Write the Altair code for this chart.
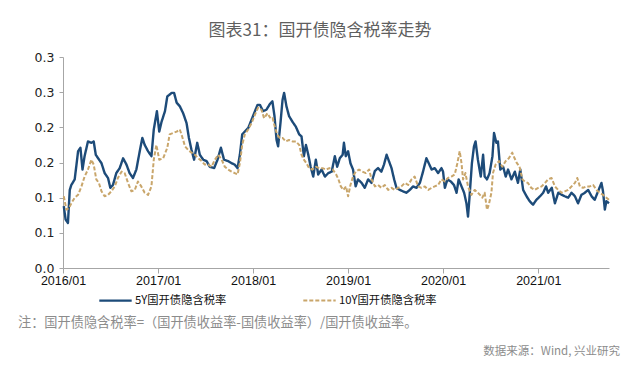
import altair as alt
import pandas as pd

# ---------------- data ----------------
s5_name = "5Y国开债隐含税率"
s10_name = "10Y国开债隐含税率"

s5_dates = [
    "2016-01-04", "2016-01-11", "2016-01-20", "2016-01-27", "2016-02-02", "2016-02-15", "2016-02-28",
    "2016-03-08", "2016-03-16", "2016-03-24", "2016-04-06", "2016-04-19", "2016-04-28", "2016-05-06",
    "2016-05-15", "2016-05-28", "2016-06-09", "2016-06-22", "2016-07-01", "2016-07-11", "2016-07-24",
    "2016-08-06", "2016-08-19", "2016-09-01", "2016-09-13", "2016-09-26", "2016-10-09", "2016-10-22",
    "2016-11-01", "2016-11-10", "2016-11-23", "2016-12-06", "2016-12-15", "2016-12-27",
    "2017-01-05", "2017-01-14", "2017-01-27", "2017-02-05", "2017-02-12", "2017-02-22", "2017-03-03",
    "2017-03-13", "2017-03-25", "2017-04-07", "2017-04-20", "2017-04-29", "2017-05-09", "2017-05-19",
    "2017-05-31", "2017-06-10", "2017-06-23", "2017-07-06", "2017-07-18", "2017-08-04", "2017-08-17",
    "2017-08-30", "2017-09-11", "2017-09-27", "2017-10-10", "2017-10-22", "2017-11-02", "2017-11-11",
    "2017-11-20", "2017-11-30", "2017-12-13", "2017-12-26",
    "2018-01-08", "2018-01-18", "2018-01-27", "2018-02-08", "2018-02-21", "2018-03-06", "2018-03-16",
    "2018-03-24", "2018-04-01", "2018-04-07", "2018-04-16", "2018-04-24", "2018-04-30", "2018-05-09",
    "2018-05-19", "2018-06-01", "2018-06-14", "2018-06-27", "2018-07-06", "2018-07-15", "2018-07-23",
    "2018-08-01", "2018-08-10", "2018-08-20", "2018-08-30", "2018-09-08", "2018-09-21", "2018-10-04",
    "2018-10-17", "2018-10-30", "2018-11-11", "2018-11-20", "2018-11-30", "2018-12-11", "2018-12-16",
    "2018-12-23",
    "2019-01-01", "2019-01-10", "2019-01-20", "2019-01-30", "2019-02-08", "2019-02-22", "2019-03-06",
    "2019-03-19", "2019-04-01", "2019-04-14", "2019-04-26", "2019-05-09", "2019-05-19", "2019-05-29",
    "2019-06-07", "2019-06-17", "2019-06-27", "2019-07-06", "2019-07-19", "2019-07-31", "2019-08-13",
    "2019-08-26", "2019-09-08", "2019-09-21", "2019-10-04", "2019-10-16", "2019-10-29", "2019-11-07",
    "2019-11-18", "2019-11-30", "2019-12-13", "2019-12-26",
    "2020-01-01", "2020-01-08", "2020-01-18", "2020-01-31", "2020-02-12", "2020-02-22", "2020-03-01",
    "2020-03-12", "2020-03-22", "2020-03-31", "2020-04-06", "2020-04-12", "2020-04-21", "2020-04-29",
    "2020-05-05", "2020-05-14", "2020-05-25", "2020-06-03", "2020-06-09", "2020-06-18", "2020-06-28",
    "2020-07-09", "2020-07-15", "2020-07-24", "2020-07-30", "2020-08-08", "2020-08-19", "2020-08-29",
    "2020-09-07", "2020-09-20", "2020-10-03", "2020-10-15", "2020-10-24", "2020-11-04", "2020-11-17",
    "2020-11-29", "2020-12-12", "2020-12-25",
    "2021-01-08", "2021-01-20", "2021-01-31", "2021-02-08", "2021-02-22", "2021-03-06", "2021-03-19",
    "2021-04-01", "2021-04-13", "2021-04-26", "2021-05-09", "2021-05-22", "2021-06-03", "2021-06-16",
    "2021-06-29", "2021-07-12", "2021-07-25", "2021-08-06", "2021-08-19", "2021-09-01", "2021-09-07",
    "2021-09-14", "2021-09-20", "2021-09-30",
]
s5_values = [
    0.088, 0.069, 0.064, 0.111, 0.118, 0.126, 0.166,
    0.171, 0.140, 0.159, 0.180, 0.178, 0.180, 0.161,
    0.156, 0.149, 0.135, 0.128, 0.114, 0.118, 0.135,
    0.142, 0.156, 0.147, 0.135, 0.128, 0.140, 0.166,
    0.185, 0.175, 0.166, 0.159, 0.197, 0.223,
    0.194, 0.208, 0.223, 0.244, 0.246, 0.249, 0.249,
    0.235, 0.230, 0.220, 0.206, 0.185, 0.168, 0.154,
    0.178, 0.161, 0.154, 0.152, 0.144, 0.142, 0.154,
    0.171, 0.154, 0.152, 0.149, 0.147, 0.142, 0.161,
    0.190, 0.194, 0.199, 0.211,
    0.223, 0.232, 0.232, 0.223, 0.225, 0.233, 0.237,
    0.216, 0.182, 0.173, 0.206, 0.239, 0.249, 0.230,
    0.216, 0.208, 0.201, 0.190, 0.187, 0.159, 0.175,
    0.161, 0.144, 0.130, 0.154, 0.133, 0.140, 0.130,
    0.135, 0.137, 0.159, 0.144, 0.156, 0.161, 0.178,
    0.159,
    0.166, 0.149, 0.140, 0.116, 0.126, 0.121, 0.114,
    0.126, 0.121, 0.138, 0.142, 0.137, 0.147, 0.161,
    0.152, 0.142, 0.126, 0.114, 0.111, 0.109, 0.107,
    0.111, 0.116, 0.114, 0.121, 0.137, 0.156, 0.149,
    0.140, 0.142, 0.135, 0.142,
    0.137, 0.114, 0.126, 0.123, 0.118, 0.107, 0.126,
    0.116, 0.107, 0.092, 0.073, 0.102, 0.149, 0.173,
    0.180, 0.154, 0.130, 0.161, 0.130, 0.126, 0.135,
    0.159, 0.192, 0.178, 0.180, 0.140, 0.144, 0.130,
    0.140, 0.126, 0.137, 0.121, 0.140, 0.111, 0.102,
    0.095, 0.090, 0.097,
    0.102, 0.107, 0.116, 0.107, 0.114, 0.092, 0.107,
    0.104, 0.102, 0.100, 0.107, 0.102, 0.092, 0.104,
    0.107, 0.111, 0.102, 0.097, 0.109, 0.121, 0.109,
    0.083, 0.095, 0.092,
]

s10_dates = [
    "2016-01-04", "2016-01-14", "2016-01-24", "2016-02-02", "2016-02-15", "2016-02-28", "2016-03-12",
    "2016-03-24", "2016-04-06", "2016-04-19", "2016-04-28", "2016-05-08", "2016-05-18", "2016-05-28",
    "2016-06-09", "2016-06-22", "2016-07-05", "2016-07-18", "2016-07-30", "2016-08-13", "2016-08-25",
    "2016-09-07", "2016-09-20", "2016-10-03", "2016-10-15", "2016-10-28", "2016-11-10", "2016-11-23",
    "2016-12-06", "2016-12-15", "2016-12-25",
    "2017-01-05", "2017-01-20", "2017-02-05", "2017-02-14", "2017-02-28", "2017-03-13", "2017-03-25",
    "2017-04-03", "2017-04-14", "2017-04-26", "2017-05-09", "2017-05-22", "2017-06-04", "2017-06-17",
    "2017-06-29", "2017-07-12", "2017-07-25", "2017-08-07", "2017-08-20", "2017-09-02", "2017-09-14",
    "2017-09-27", "2017-10-10", "2017-10-22", "2017-11-02", "2017-11-11", "2017-11-20", "2017-11-30",
    "2017-12-13", "2017-12-26",
    "2018-01-08", "2018-01-20", "2018-02-02", "2018-02-12", "2018-02-25", "2018-03-10", "2018-03-17",
    "2018-03-25", "2018-04-03", "2018-04-13", "2018-04-24", "2018-05-06", "2018-05-19", "2018-06-01",
    "2018-06-14", "2018-06-27", "2018-07-06", "2018-07-15", "2018-07-25", "2018-08-04", "2018-08-17",
    "2018-08-30", "2018-09-12", "2018-09-25", "2018-10-08", "2018-10-21", "2018-11-03", "2018-11-16",
    "2018-11-25", "2018-12-04", "2018-12-14", "2018-12-24",
    "2019-01-01", "2019-01-10", "2019-01-20", "2019-01-30", "2019-02-12", "2019-02-25", "2019-03-10",
    "2019-03-23", "2019-04-01", "2019-04-14", "2019-04-26", "2019-05-09", "2019-05-22", "2019-06-04",
    "2019-06-17", "2019-06-29", "2019-07-12", "2019-07-25", "2019-08-07", "2019-08-20", "2019-09-02",
    "2019-09-14", "2019-09-27", "2019-10-10", "2019-10-23", "2019-11-05", "2019-11-18", "2019-11-30",
    "2019-12-13", "2019-12-26",
    "2020-01-08", "2020-01-20", "2020-02-02", "2020-02-15", "2020-02-25", "2020-03-05", "2020-03-12",
    "2020-03-18", "2020-03-27", "2020-04-06", "2020-04-19", "2020-05-02", "2020-05-14", "2020-05-27",
    "2020-05-31", "2020-06-09", "2020-06-18", "2020-06-25", "2020-07-05", "2020-07-11", "2020-07-21",
    "2020-08-03", "2020-08-16", "2020-08-29", "2020-09-10", "2020-09-23", "2020-10-02", "2020-10-11",
    "2020-10-21", "2020-11-01", "2020-11-10", "2020-11-22", "2020-12-05", "2020-12-18",
    "2021-01-01", "2021-01-14", "2021-01-27", "2021-02-08", "2021-02-21", "2021-03-06", "2021-03-19",
    "2021-04-01", "2021-04-13", "2021-04-26", "2021-05-09", "2021-05-22", "2021-05-31", "2021-06-10",
    "2021-06-22", "2021-07-05", "2021-07-18", "2021-07-31", "2021-08-13", "2021-08-25", "2021-09-07",
    "2021-09-20", "2021-09-30",
]
s10_values = [
    0.102, 0.083, 0.085, 0.092, 0.100, 0.104, 0.116,
    0.130, 0.140, 0.154, 0.147, 0.126, 0.121, 0.109,
    0.102, 0.104, 0.109, 0.116, 0.128, 0.137, 0.135,
    0.121, 0.109, 0.111, 0.123, 0.116, 0.107, 0.104,
    0.116, 0.154, 0.175,
    0.154, 0.156, 0.171, 0.190, 0.192, 0.194, 0.197,
    0.187, 0.173, 0.168, 0.164, 0.161, 0.156, 0.152,
    0.147, 0.147, 0.144, 0.154, 0.161, 0.154, 0.144,
    0.140, 0.137, 0.135, 0.133, 0.149, 0.175, 0.190,
    0.197, 0.206,
    0.218, 0.228, 0.225, 0.213, 0.220, 0.212, 0.213,
    0.201, 0.190, 0.185, 0.185, 0.180, 0.182, 0.180,
    0.180, 0.175, 0.161, 0.154, 0.149, 0.142, 0.140,
    0.144, 0.142, 0.142, 0.140, 0.142, 0.140, 0.133,
    0.126, 0.116, 0.111, 0.116,
    0.102, 0.118, 0.130, 0.137, 0.140, 0.137, 0.135,
    0.140, 0.126, 0.116, 0.118, 0.114, 0.118, 0.111,
    0.114, 0.111, 0.114, 0.116, 0.121, 0.118, 0.126,
    0.130, 0.116, 0.114, 0.116, 0.111, 0.114, 0.116,
    0.118, 0.126,
    0.123, 0.128, 0.130, 0.133, 0.149, 0.166, 0.149,
    0.126, 0.135, 0.116, 0.104, 0.111, 0.107, 0.102,
    0.100, 0.107, 0.083, 0.090, 0.107, 0.135, 0.147,
    0.152, 0.144, 0.152, 0.156, 0.164, 0.156, 0.149,
    0.144, 0.126, 0.123, 0.121, 0.114, 0.111,
    0.114, 0.116, 0.121, 0.126, 0.128, 0.116, 0.111,
    0.107, 0.109, 0.111, 0.116, 0.121, 0.128, 0.116,
    0.114, 0.116, 0.116, 0.118, 0.111, 0.107, 0.104,
    0.100, 0.097,
]

y_ticks = [0.00, 0.05, 0.10, 0.15, 0.20, 0.25, 0.30]
y_tick_labels = ["0.0", "0.1", "0.1", "0.2", "0.2", "0.3", "0.3"]
x_tick_years = [2016, 2017, 2018, 2019, 2020, 2021]

title_text = "图表31：国开债隐含税率走势"
note_text = "注：国开债隐含税率=（国开债收益率-国债收益率）/国开债收益率。"
source_text = "数据来源：Wind, 兴业研究"

# ---------------- build ----------------
df = pd.concat([
    pd.DataFrame({"date": pd.to_datetime(s5_dates), "value": s5_values, "series": s5_name}),
    pd.DataFrame({"date": pd.to_datetime(s10_dates), "value": s10_values, "series": s10_name}),
])

label_expr = " : ".join(
    f"abs(datum.value - {v}) < 0.001 ? '{l}'" for v, l in zip(y_ticks, y_tick_labels)
) + " : ''"

CJK = "Noto Sans CJK SC"

legend_cfg = dict(
    orient="none", legendX=35, legendY=226, direction="horizontal",
    title=None, symbolType="stroke", symbolSize=1050, symbolStrokeWidth=2,
    labelFont=CJK, labelFontSize=11.3, labelColor="#111111",
    columnPadding=72, labelOffset=2,
)

lines = alt.Chart(df).mark_line(strokeJoin="round").encode(
    x=alt.X(
        "date:T",
        title=None,
        scale=alt.Scale(domain=[alt.DateTime(year=2016, month=1, date=1),
                                alt.DateTime(year=2021, month=9, date=30)]),
        axis=alt.Axis(
            values=[alt.DateTime(year=y, month=1, date=1) for y in x_tick_years],
            format="%Y/%m", labelFont="Liberation Sans", labelFontSize=12.5,
            labelColor="#111111", domainColor="#a6a6a6", tickColor="#a6a6a6",
            tickSize=5, labelPadding=1, grid=False, labelFlush=False,
        ),
    ),
    y=alt.Y(
        "value:Q",
        title=None,
        scale=alt.Scale(domain=[0, 0.3], nice=False, zero=True),
        axis=alt.Axis(
            values=y_ticks, labelExpr=label_expr, labelFont="DejaVu Sans",
            labelFontSize=12.5, labelColor="#222222", domainColor="#a6a6a6",
            tickColor="#a6a6a6", tickSize=4, labelPadding=5, grid=False,
        ),
    ),
    color=alt.Color(
        "series:N",
        scale=alt.Scale(domain=[s5_name, s10_name], range=["#1d4b79", "#c9a66b"]),
        legend=alt.Legend(**legend_cfg),
    ),
    strokeDash=alt.StrokeDash(
        "series:N",
        scale=alt.Scale(domain=[s5_name, s10_name], range=[[1, 0], [4, 2]]),
        legend=alt.Legend(**legend_cfg),
    ),
    strokeWidth=alt.StrokeWidth(
        "series:N",
        scale=alt.Scale(domain=[s5_name, s10_name], range=[2.4, 2.0]),
        legend=None,
    ),
    order=alt.Order("date:T"),
)

note = alt.Chart(pd.DataFrame({"t": [note_text]})).mark_text(
    align="left", baseline="middle", font=CJK, fontSize=13.2, color="#8c8c8c"
).encode(text="t:N", x=alt.value(-45), y=alt.value(266))

source = alt.Chart(pd.DataFrame({"t": [source_text]})).mark_text(
    align="right", baseline="middle", font=CJK, fontSize=11.5, color="#8c8c8c"
).encode(text="t:N", x=alt.value(557), y=alt.value(295))

chart = alt.layer(lines, note, source).properties(
    width=546,
    height=211,
    padding={"left": 55, "top": 49, "right": 23, "bottom": 90},
    autosize=alt.AutoSizeParams(type="none"),
    title=alt.TitleParams(
        title_text, font=CJK, fontSize=17, fontWeight="normal",
        color="#5f5f5f", anchor="middle", dx=-16, offset=11,
    ),
).configure_view(stroke=None)

chart.save("out.html", embed_options={"renderer": "svg", "actions": False})
